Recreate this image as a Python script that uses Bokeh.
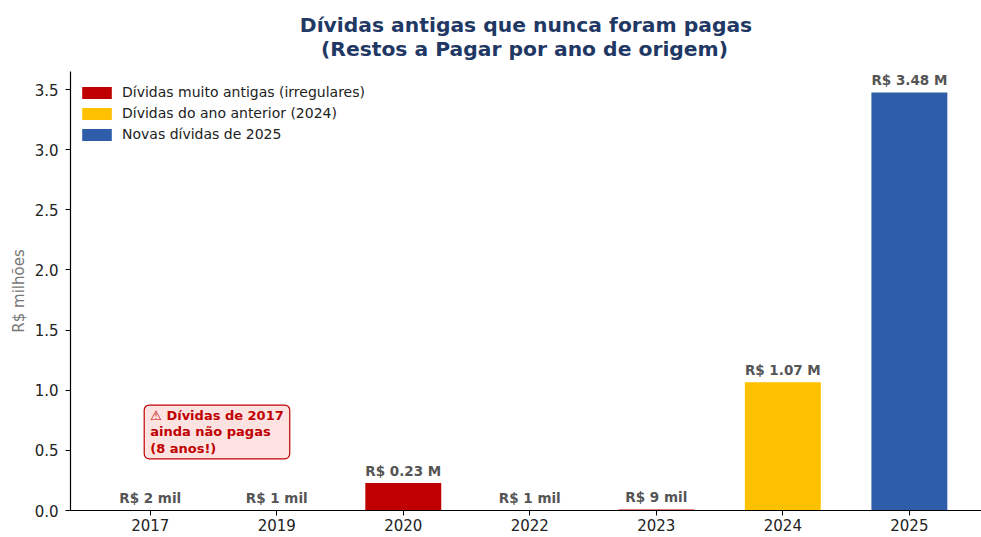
from bokeh.plotting import figure
from bokeh.models import (ColumnDataSource, Range1d, FixedTicker, Label, LabelSet,
                          PrintfTickFormatter, Legend, LegendItem)
from bokeh.core.properties import value
from bokeh.embed import file_html
from bokeh.resources import INLINE

# ---- data ----
anos = ["2017", "2019", "2020", "2022", "2023", "2024", "2025"]
valores = [0.002, 0.001, 0.228, 0.001, 0.009, 1.066, 3.476]
rotulos = ["R$ 2 mil", "R$ 1 mil", "R$ 0.23 M", "R$ 1 mil", "R$ 9 mil", "R$ 1.07 M", "R$ 3.48 M"]
legenda = ["Dívidas muito antigas (irregulares)", "Dívidas do ano anterior (2024)",
           "Novas dívidas de 2025"]
grupo_idx = [0, 0, 0, 0, 0, 1, 2]
cores = ["#C00000", "#FFC000", "#2E5EAA"]
yticks = [0.0, 0.5, 1.0, 1.5, 2.0, 2.5, 3.0, 3.5]
titulo1 = "Dívidas antigas que nunca foram pagas"
titulo2 = "(Restos a Pagar por ano de origem)"
nota = "⚠ Dívidas de 2017\nainda não pagas\n(8 anos!)"

FONT = "DejaVu Sans"
TITLE_COLOR = "#1F3864"
pos = list(range(len(anos)))
src = ColumnDataSource(dict(x=pos, valor=valores, rotulo=rotulos,
                            cor=[cores[g] for g in grupo_idx]))

p = figure(width=981, height=537, output_backend="svg", toolbar_location=None,
           x_range=Range1d(-0.63, 6.57), y_range=Range1d(0, max(valores) * 1.05),
           min_border_left=70, min_border_right=0, min_border_top=70, min_border_bottom=27)

# two-line title; the second line is indented with no-break spaces so it sits centred
p.title.text = titulo1 + "\n" + "\u00a0\u00a0\u00a0" + titulo2
p.title.align = "center"
p.title.offset = 2
p.title.text_font = FONT
p.title.text_font_size = "20.3px"
p.title.text_font_style = "bold"
p.title.text_color = TITLE_COLOR
p.title.standoff = 21

r = p.vbar(x="x", top="valor", width=0.6, source=src, fill_color="cor", line_color=None)

p.add_layout(LabelSet(x="x", y="valor", text="rotulo", source=src, text_align="center",
                      text_baseline="bottom", y_offset=4, text_font=value(FONT),
                      text_font_size="13.5px", text_font_style="bold", text_color="#555555"))

p.add_layout(Label(x=0, y=0.43, text=nota, text_align="left", text_baseline="bottom",
                   x_offset=-6, y_offset=0, text_line_height=1.09,
                   text_font=FONT, text_font_size="13px", text_font_style="bold",
                   text_color="#C00000", background_fill_color="#FDE2E2",
                   border_line_color="#C00000", border_line_width=1.2,
                   border_radius=5, padding=(6, 3)))

items = [LegendItem(label=nome, renderers=[r], index=grupo_idx.index(i))
         for i, nome in enumerate(legenda)]
lg = Legend(items=items, location="top_left")
p.add_layout(lg)
lg.title = " "
lg.title_text_font_size = "1px"
lg.title_standoff = 2
lg.border_line_color = None
lg.background_fill_alpha = 0
lg.margin = 8
lg.padding = 9
lg.spacing = 1
lg.glyph_width = 37
lg.glyph_height = 15
lg.label_height = 20
lg.label_standoff = 7
lg.label_text_font = FONT
lg.label_text_font_size = "14px"
lg.label_text_color = "#222222"

p.outline_line_color = None
p.xgrid.grid_line_color = None
p.ygrid.grid_line_color = None

p.xaxis.ticker = FixedTicker(ticks=pos)
p.xaxis.major_label_overrides = {i: a for i, a in zip(pos, anos)}
p.yaxis.ticker = FixedTicker(ticks=yticks)
p.yaxis.formatter = PrintfTickFormatter(format="%.1f")
for ax in (p.xaxis[0], p.yaxis[0]):
    ax.axis_line_color = "black"
    ax.axis_line_width = 1.2
    ax.major_tick_line_color = "black"
    ax.major_tick_out = 5
    ax.major_tick_in = 0
    ax.minor_tick_line_color = None
    ax.major_label_text_font = FONT
    ax.major_label_text_font_size = "15px"
    ax.major_label_text_color = "#222222"
p.xaxis.major_label_standoff = 3
p.yaxis.major_label_standoff = 7
p.yaxis.axis_label = "R$ milhões"
p.yaxis.axis_label_text_font = FONT
p.yaxis.axis_label_text_font_size = "15px"
p.yaxis.axis_label_text_font_style = "normal"
p.yaxis.axis_label_text_color = "#777777"
p.yaxis.axis_label_standoff = 4

open("out.html", "w").write(file_html(p, INLINE))
